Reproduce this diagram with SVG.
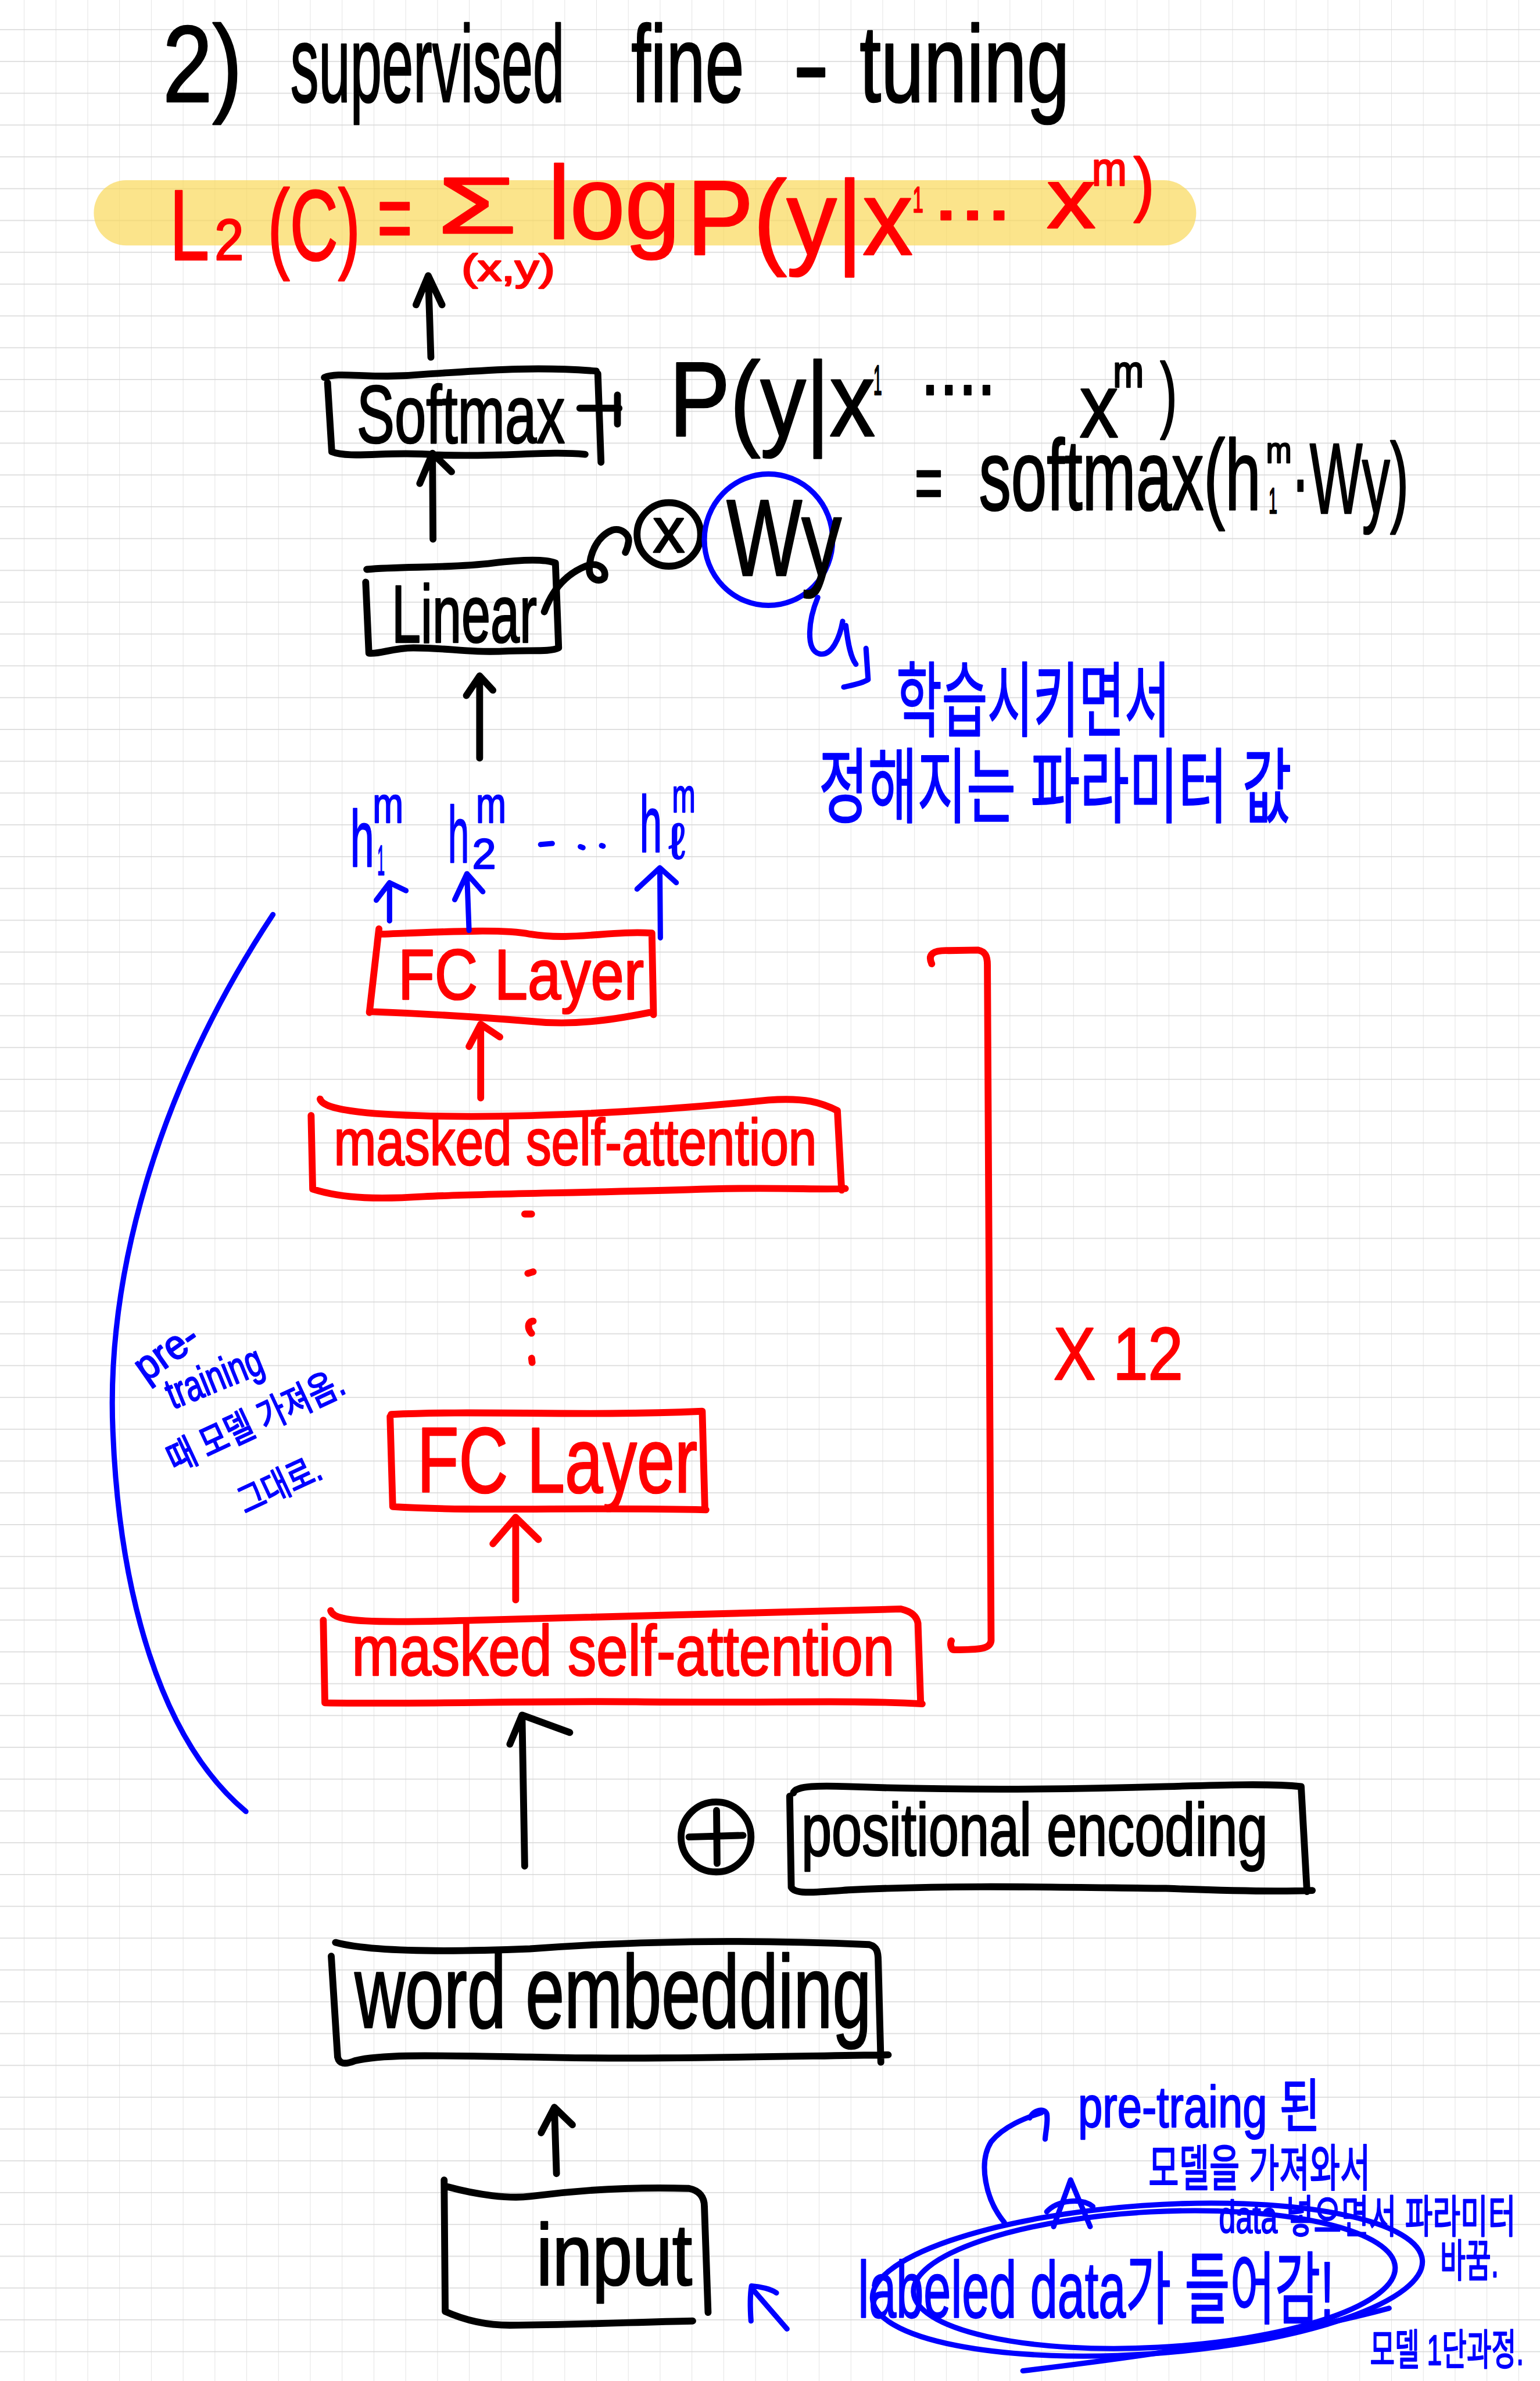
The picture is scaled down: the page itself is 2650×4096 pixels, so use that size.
<svg xmlns="http://www.w3.org/2000/svg" width="2650" height="4096" viewBox="0 0 2650 4096">
<defs>
<pattern id="grid" patternUnits="userSpaceOnUse" x="45" y="55" width="60" height="60">
<path d="M0 0V60" stroke="#e2e2e2" stroke-width="2" fill="none"/>
<path d="M0 0H60" stroke="#d6d6d6" stroke-width="3" fill="none"/>
</pattern>
<style>
text{font-family:"Liberation Sans","Noto Sans CJK KR","Noto Sans",sans-serif;}
.k{fill:#000;stroke:#000;stroke-width:3;stroke-linejoin:round}
.r{fill:#f00;stroke:#f00;stroke-width:3;stroke-linejoin:round}
.b{fill:#00f;stroke:#00f;stroke-width:2.5;stroke-linejoin:round}
.ln{fill:none;stroke-linecap:round;stroke-linejoin:round}
.lk{stroke:#000;stroke-width:13}
.lr{stroke:#f00;stroke-width:13}
.lb{stroke:#00f;stroke-width:10}
</style>
</defs>
<rect width="2650" height="4096" fill="#fff"/>
<g transform="scale(0.912)">
<rect width="2906" height="4492" fill="url(#grid)"/>

<g id="title">
<text class="k" font-size="205" y="192"><tspan x="307" textLength="150" lengthAdjust="spacingAndGlyphs">2)</tspan> <tspan x="548" textLength="517" lengthAdjust="spacingAndGlyphs">supervised</tspan> <tspan x="1191" textLength="213" lengthAdjust="spacingAndGlyphs">fine</tspan> <tspan x="1496" textLength="69" lengthAdjust="spacingAndGlyphs">-</tspan> <tspan x="1622" textLength="396" lengthAdjust="spacingAndGlyphs">tuning</tspan></text>
</g>

<g id="loss">
<rect x="177" y="340" width="2080" height="123" rx="61" fill="#fad85a" opacity="0.7"/>
<text class="r" font-size="190" y="490"><tspan x="320" textLength="75" lengthAdjust="spacingAndGlyphs">L</tspan><tspan x="405" font-size="110" textLength="55" lengthAdjust="spacingAndGlyphs">2</tspan><tspan x="505" textLength="175" lengthAdjust="spacingAndGlyphs">(C)</tspan> <tspan x="712" y="475" textLength="66" lengthAdjust="spacingAndGlyphs">=</tspan> <tspan x="825" y="440" font-size="150" textLength="150" lengthAdjust="spacingAndGlyphs">Σ</tspan></text>
<text class="r" font-size="72" x="871" y="530" textLength="176" lengthAdjust="spacingAndGlyphs">(x,y)</text>
<text class="r" font-size="195" y="450"><tspan x="1034" textLength="249" lengthAdjust="spacingAndGlyphs">log</tspan> <tspan x="1296" y="480" font-size="200" textLength="426" lengthAdjust="spacingAndGlyphs">P(y|x</tspan><tspan x="1722" y="400" font-size="70" textLength="20" lengthAdjust="spacingAndGlyphs">1</tspan><tspan x="1760" y="415" font-size="150" textLength="150" lengthAdjust="spacingAndGlyphs">...</tspan> <tspan x="1975" y="430" font-size="160" textLength="92" lengthAdjust="spacingAndGlyphs">x</tspan><tspan x="2060" y="350" font-size="90" textLength="66" lengthAdjust="spacingAndGlyphs">m</tspan><tspan x="2139" y="392" font-size="135" textLength="39" lengthAdjust="spacingAndGlyphs">)</tspan></text>
</g>

<g id="softmax">
<path class="ln lk" d="M612,712 C640,700 700,716 800,706 C900,700 1000,690 1125,700 M1128,705 L1134,872 M618,722 L626,852 C660,866 740,850 820,858 C950,863 1030,850 1104,857"/>
<text class="k" font-size="155" x="673" y="835" textLength="393" lengthAdjust="spacingAndGlyphs">Softmax</text>
</g>

<g id="prob">
<text class="k" font-size="200" y="822"><tspan x="1263" textLength="388" lengthAdjust="spacingAndGlyphs">P(y|x</tspan><tspan x="1648" y="745" font-size="80" textLength="16" lengthAdjust="spacingAndGlyphs">1</tspan> <tspan x="1737" font-size="160" textLength="142" lengthAdjust="spacingAndGlyphs">....</tspan> <tspan x="2037" y="825" font-size="170" textLength="73" lengthAdjust="spacingAndGlyphs">x</tspan><tspan x="2100" y="730" font-size="85" textLength="58" lengthAdjust="spacingAndGlyphs">m</tspan><tspan x="2189" y="796" font-size="158" textLength="32" lengthAdjust="spacingAndGlyphs">)</tspan></text>
<text class="k" font-size="190" y="965"><tspan x="1726" y="962" font-size="150" textLength="53" lengthAdjust="spacingAndGlyphs">=</tspan> <tspan x="1847" textLength="532" lengthAdjust="spacingAndGlyphs">softmax(h</tspan><tspan x="2389" y="873" font-size="70" textLength="48" lengthAdjust="spacingAndGlyphs">m</tspan><tspan x="2394" y="968" font-size="70" textLength="16" lengthAdjust="spacingAndGlyphs">1</tspan><tspan x="2436" textLength="222" lengthAdjust="spacingAndGlyphs">·Wy)</tspan></text>
</g>

<g id="linear">
<path class="ln lk" d="M692,1074 C760,1068 850,1072 930,1062 C990,1055 1030,1055 1048,1062 L1054,1222 C1040,1230 1000,1226 960,1228 C880,1232 850,1222 780,1222 C740,1222 715,1235 696,1232 L690,1098"/>
<text class="k" font-size="155" x="739" y="1212" textLength="274" lengthAdjust="spacingAndGlyphs">Linear</text>
</g>

<g id="multiply">
<circle class="ln lk" cx="1262" cy="1008" r="60" stroke-width="11"/>
<text class="k" font-size="120" x="1262" y="1042" text-anchor="middle" textLength="60" lengthAdjust="spacingAndGlyphs">x</text>
</g>

<g id="wy">
<ellipse class="ln lb" cx="1450" cy="1018" rx="121" ry="124"/>
<text class="k" font-size="205" x="1371" y="1085" textLength="217" lengthAdjust="spacingAndGlyphs">Wy</text>
</g>

<g id="note-wy">
<text class="b" font-size="155" x="1691" y="1377" textLength="517" lengthAdjust="spacingAndGlyphs">학습시키면서</text>
<text class="b" font-size="155" x="1545" y="1540" textLength="892" lengthAdjust="spacingAndGlyphs">정해지는 파라미터 값</text>
</g>

<g id="hidden">
<text class="b" font-size="150" x="661" y="1635" textLength="45" lengthAdjust="spacingAndGlyphs">h</text>
<text class="b" font-size="80" x="712" y="1650" textLength="14" lengthAdjust="spacingAndGlyphs">1</text>
<text class="b" font-size="95" x="703" y="1552" textLength="58" lengthAdjust="spacingAndGlyphs">m</text>
<text class="b" font-size="150" x="845" y="1627" textLength="40" lengthAdjust="spacingAndGlyphs">h</text>
<text class="b" font-size="80" x="891" y="1638" textLength="45" lengthAdjust="spacingAndGlyphs">2</text>
<text class="b" font-size="95" x="898" y="1552" textLength="57" lengthAdjust="spacingAndGlyphs">m</text>
<path class="ln lb" d="M1020,1593 L1042,1591 M1095,1597 L1100,1599 M1135,1595 L1138,1596" stroke-width="14"/>
<text class="b" font-size="150" x="1207" y="1607" textLength="42" lengthAdjust="spacingAndGlyphs">h</text>
<text class="b" font-size="95" x="1262" y="1620">ℓ</text>
<text class="b" font-size="90" x="1268" y="1532" textLength="44" lengthAdjust="spacingAndGlyphs">m</text>
</g>

<g id="fc1">
<path class="ln lr" d="M715,1752 L697,1910 M720,1762 C850,1757 950,1752 1000,1762 C1080,1775 1150,1755 1230,1760 L1233,1914 M697,1908 C800,1912 900,1918 996,1926 C1080,1935 1150,1925 1225,1910"/>
<text class="r" font-size="135" x="751" y="1885" textLength="464" lengthAdjust="spacingAndGlyphs">FC Layer</text>
</g>

<g id="attn1">
<path class="ln lr" d="M604,2073 C610,2095 700,2105 889,2106 C1100,2105 1300,2090 1450,2075 C1520,2070 1550,2080 1580,2095 L1588,2245 M587,2104 L590,2243 C650,2262 720,2262 800,2257 C900,2252 1100,2250 1300,2244 C1450,2238 1550,2245 1595,2242"/>
<text class="r" font-size="125" x="630" y="2197" textLength="911" lengthAdjust="spacingAndGlyphs">masked self-attention</text>
</g>

<g id="dots">
<path class="ln lr" d="M990,2290 L1003,2290 M996,2402 L1006,2399 M1006,2492 C996,2492 994,2505 1003,2515 M1003,2562 L1004,2570"/>
</g>

<g id="fc2">
<path class="ln lr" d="M738,2668 C900,2660 1100,2672 1325,2662 L1330,2847 M736,2672 L741,2842 C900,2852 1100,2842 1332,2848"/>
<text class="r" font-size="175" x="787" y="2815" textLength="529" lengthAdjust="spacingAndGlyphs">FC Layer</text>
</g>

<g id="attn2">
<path class="ln lr" d="M624,3038 C630,3060 700,3062 900,3056 C1200,3050 1500,3040 1700,3035 C1722,3040 1730,3050 1732,3062 L1737,3210 M610,3056 L613,3212 C800,3215 1000,3208 1200,3210 C1450,3213 1600,3206 1740,3214"/>
<text class="r" font-size="135" x="664" y="3160" textLength="1024" lengthAdjust="spacingAndGlyphs">masked self-attention</text>
</g>

<g id="repeat">
<path class="ln lr" d="M1758,1818 C1750,1800 1760,1792 1790,1793 L1845,1792 C1860,1795 1863,1805 1863,1820 L1870,3095 C1868,3110 1850,3112 1800,3112 C1795,3112 1792,3102 1795,3095"/>
<text class="r" font-size="140" x="1988" y="2602" textLength="244" lengthAdjust="spacingAndGlyphs">X 12</text>
</g>

<g id="pretrain-note">
<path class="ln lb" d="M515,1725 C300,2050 200,2400 213,2700 C225,3000 300,3280 464,3417" stroke-width="8"/>
<text class="b" font-size="78" x="315" y="2575" text-anchor="middle" transform="rotate(-35 315 2552)" textLength="130" lengthAdjust="spacingAndGlyphs">pre-</text>
<text class="b" font-size="82" x="405" y="2625" text-anchor="middle" transform="rotate(-22 405 2600)" textLength="190" lengthAdjust="spacingAndGlyphs">training</text>
<text class="b" font-size="70" x="482" y="2705" text-anchor="middle" transform="rotate(-25 482 2680)" textLength="360" lengthAdjust="spacingAndGlyphs">때 모델 가져옴.</text>
<text class="b" font-size="68" x="527" y="2825" text-anchor="middle" transform="rotate(-25 527 2800)" textLength="165" lengthAdjust="spacingAndGlyphs">그대로.</text>
</g>

<g id="pos-enc">
<circle class="ln lk" cx="1351" cy="3465" r="66" stroke-width="11"/>
<path class="ln lk" d="M1300,3465 L1402,3462 M1352,3415 L1353,3515" stroke-width="11"/>
<path class="ln lk" d="M1497,3382 C1500,3368 1550,3368 1600,3370 C1800,3377 2000,3376 2200,3370 C2300,3367 2400,3364 2455,3370 L2466,3568 M1490,3388 L1493,3560 C1500,3573 1530,3570 1600,3565 C1800,3555 2000,3560 2200,3562 C2350,3568 2420,3568 2476,3566"/>
<text class="k" font-size="140" x="1512" y="3500" textLength="880" lengthAdjust="spacingAndGlyphs">positional encoding</text>
</g>

<g id="word-emb">
<path class="ln lk" d="M633,3664 C700,3682 850,3682 1000,3676 C1200,3661 1400,3658 1640,3668 C1655,3672 1657,3682 1657,3700 L1662,3890 M625,3690 L637,3880 C640,3893 650,3895 670,3887 C720,3875 800,3877 1000,3880 C1200,3885 1400,3880 1676,3876"/>
<text class="k" font-size="195" x="669" y="3825" textLength="975" lengthAdjust="spacingAndGlyphs">word embedding</text>
</g>

<g id="input">
<path class="ln lk" d="M838,4112 L840,4360 C880,4378 920,4386 962,4386 C1100,4385 1200,4380 1307,4378 M845,4125 C900,4140 960,4148 1000,4143 C1100,4130 1200,4125 1300,4128 C1320,4132 1329,4145 1329,4162 L1336,4362"/>
<text class="k" font-size="165" x="1012" y="4310" textLength="294" lengthAdjust="spacingAndGlyphs">input</text>
</g>

<g id="labeled">
<ellipse class="ln lb" cx="2165" cy="4300" rx="520" ry="140" transform="rotate(-4 2165 4300)"/>
<ellipse class="ln lb" cx="2178" cy="4300" rx="455" ry="128" transform="rotate(-3 2178 4300)"/>
<path class="ln lb" d="M2621,4354 C2450,4400 2200,4440 1930,4472"/>
<path class="ln lb" d="M1988,4200 L2020,4112 L2057,4200 M1975,4172 C1995,4150 2040,4145 2062,4162" stroke-width="8"/>
<text class="b" font-size="150" x="1619" y="4372" textLength="898" lengthAdjust="spacingAndGlyphs">labeled data가 들어감!</text>
</g>

<g id="finetune-note">
<text class="b" font-size="110" x="2034" y="4012" textLength="457" lengthAdjust="spacingAndGlyphs">pre-traing 된</text>
<text class="b" font-size="95" x="2167" y="4124" textLength="419" lengthAdjust="spacingAndGlyphs">모델을 가져와서</text>
<text class="b" font-size="85" x="2300" y="4212" textLength="560" lengthAdjust="spacingAndGlyphs">data 넣으면서 파라미터</text>
<text class="b" font-size="85" x="2717" y="4295" textLength="111" lengthAdjust="spacingAndGlyphs">바꿈.</text>
<text class="b" font-size="80" x="2585" y="4460" textLength="290" lengthAdjust="spacingAndGlyphs">모델 1단과정.</text>
</g>

<g id="connectors">
<path class="ln lk" d="M813,674 L808,520 M785,575 L808,520 L834,575"/>
<path class="ln lk" d="M1094,770 L1168,770 M1165,745 L1165,800" stroke-width="11"/>
<path class="ln lk" d="M817,1017 L816,855 M792,912 L816,855 L852,890"/>
<path class="ln lk" d="M1027,1154 C1045,1105 1075,1080 1105,1068 C1130,1058 1146,1075 1140,1090 C1130,1100 1112,1092 1112,1075 C1112,1040 1130,1010 1155,1000 C1172,995 1188,1008 1186,1022 C1185,1030 1182,1038 1180,1042" stroke-width="10"/>
<path class="ln lk" d="M905,1430 L905,1275 M880,1312 L905,1275 L930,1302"/>
<path class="ln lb" d="M1543,1127 C1525,1170 1520,1225 1545,1233 C1570,1240 1585,1200 1590,1172 M1596,1180 C1600,1215 1605,1240 1615,1253 M1634,1223 L1638,1282 C1625,1290 1605,1293 1592,1296"/>
<path class="ln lb" d="M735,1737 L735,1665 M710,1698 L735,1665 L766,1680"/>
<path class="ln lb" d="M885,1755 L881,1648 M858,1697 L881,1648 L911,1682"/>
<path class="ln lb" d="M1246,1769 L1245,1637 M1202,1677 L1245,1637 L1276,1665"/>
<path class="ln lr" d="M907,2071 L907,1932 M885,1974 L907,1932 L943,1956"/>
<path class="ln lr" d="M973,3018 L973,2862 M930,2912 L973,2862 L1016,2904"/>
<path class="ln lk" d="M990,3520 L985,3235 M962,3290 L985,3235 L1075,3268"/>
<path class="ln lk" d="M1050,4100 L1046,3975 M1021,4023 L1046,3975 L1080,4008"/>
<path class="ln lb" d="M1485,4393 L1420,4318 M1417,4378 C1415,4350 1415,4330 1418,4312 C1435,4313 1455,4318 1465,4325"/>
<path class="ln lb" d="M1895,4192 C1860,4150 1845,4080 1870,4040 C1895,4010 1935,3995 1965,3985 M1943,3995 C1950,3980 1970,3975 1975,3987 C1978,4000 1973,4020 1972,4035"/>
</g>
</g>
</svg>
